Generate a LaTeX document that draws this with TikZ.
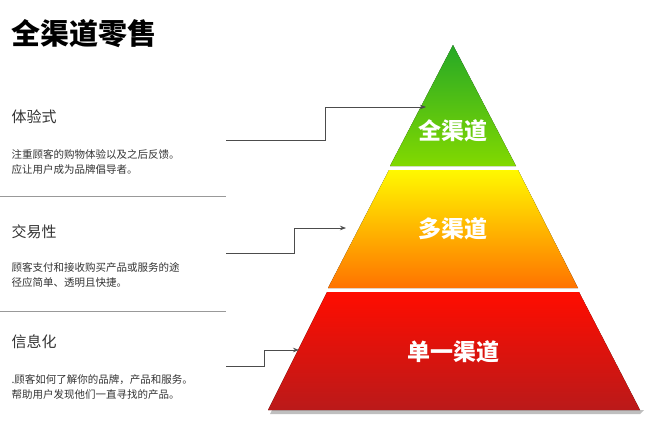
\documentclass[tikz,border=0pt]{standalone}
\usepackage{fontspec}
\setmainfont{Noto Sans CJK SC}
\usetikzlibrary{arrows.meta}
\tikzset{
  head/.style={anchor=west,font=\fontsize{15}{18}\selectfont,text=black!80},
  desc/.style={anchor=north west,align=left,font=\fontsize{10.5}{15}\selectfont,text=black!80},
  level/.style={text=white,font=\bfseries\fontsize{23}{27}\selectfont},
  link/.style={draw=black!70,line width=0.7pt,-{Stealth[length=6pt]}},
  rule/.style={draw=black!40,line width=0.6pt}
}
\begin{document}
\begin{tikzpicture}[x=1pt,y=-1pt]
  \useasboundingbox (0,0) rectangle (650,424);
  \node[anchor=west,font=\bfseries\fontsize{29}{34}\selectfont] (title) at (8,34) {全渠道零售};
  % left column
  \node[head] (h1) at (8,117) {体验式};
  \node[desc] (d1) at (8,146) {注重顾客的购物体验以及之后反馈。\\应让用户成为品牌倡导者。};
  \draw[rule] (0,196) -- (226,196);
  \node[head] (h2) at (8,232) {交易性};
  \node[desc] (d2) at (8,259) {顾客支付和接收购买产品或服务的途\\径应简单、透明且快捷。};
  \draw[rule] (0,311) -- (226,311);
  \node[head] (h3) at (8,342) {信息化};
  \node[desc] (d3) at (8,371) {.顾客如何了解你的品牌，产品和服务。\\帮助用户发现他们一直寻找的产品。};
  % pyramid
  \fill[black!25] (272,410) -- (644,410) -- (640,414) -- (270,414) -- cycle;
  \fill[top color=green!60!black!85, bottom color=green!40!yellow!85!black] (453,45) -- (516,166) -- (390,166) -- cycle;
  \fill[top color=yellow!95!orange, bottom color=orange!90!red] (389,170) -- (518,170) -- (578,288) -- (328,288) -- cycle;
  \fill[top color=red!90!orange, bottom color=red!70!black!90] (327,292) -- (579,292) -- (640,410) -- (268,410) -- cycle;
  \node[level] (l1) at (453,131) {全渠道};
  \node[level] (l2) at (453,229) {多渠道};
  \node[level] (l3) at (453,352) {单一渠道};
  % connectors
  \coordinate (c1) at (226,140);
  \coordinate (t1) at (426,107);
  \coordinate (c2) at (226,253);
  \coordinate (t2) at (346,228);
  \coordinate (c3) at (226,366);
  \coordinate (t3) at (299,350);
  \draw[link] (c1) -| (325,107) -- (t1);
  \draw[link] (c2) -| (294,228) -- (t2);
  \draw[link] (c3) -| (264,350) -- (t3);
\end{tikzpicture}
\end{document}
